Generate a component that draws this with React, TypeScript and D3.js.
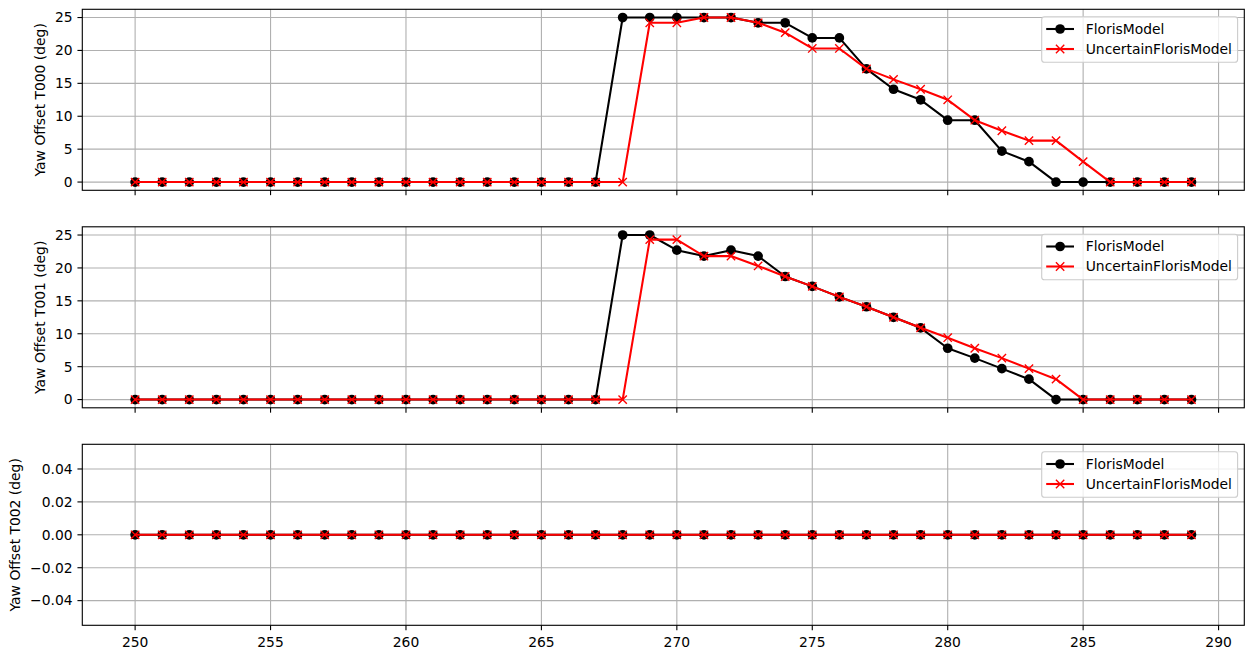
import React from "react";
import * as d3 from "d3";

const wd: number[] = [250,251,252,253,254,255,256,257,258,259,260,261,262,263,264,265,266,267,268,269,270,271,272,273,274,275,276,277,278,279,280,281,282,283,284,285,286,287,288,289];

const t000Floris: number[] = [0,0,0,0,0,0,0,0,0,0,0,0,0,0,0,0,0,0,25,25,25,25,25,24.2,24.2,21.9,21.9,17.2,14.1,12.5,9.4,9.4,4.7,3.1,0,0,0,0,0,0];
const t000Uncertain: number[] = [0,0,0,0,0,0,0,0,0,0,0,0,0,0,0,0,0,0,0,24.2,24.2,25,25,24.2,22.7,20.3,20.3,17.2,15.6,14.1,12.5,9.4,7.8,6.3,6.3,3.1,0,0,0,0];
const t001Floris: number[] = [0,0,0,0,0,0,0,0,0,0,0,0,0,0,0,0,0,0,25,25,22.7,21.8,22.7,21.8,18.7,17.2,15.6,14.1,12.5,10.9,7.8,6.3,4.7,3.1,0,0,0,0,0,0];
const t001Uncertain: number[] = [0,0,0,0,0,0,0,0,0,0,0,0,0,0,0,0,0,0,0,24.3,24.3,21.8,21.8,20.3,18.7,17.2,15.6,14.1,12.5,10.9,9.4,7.8,6.3,4.7,3.1,0,0,0,0,0];
const t002Floris: number[] = [0,0,0,0,0,0,0,0,0,0,0,0,0,0,0,0,0,0,0,0,0,0,0,0,0,0,0,0,0,0,0,0,0,0,0,0,0,0,0,0];
const t002Uncertain: number[] = [0,0,0,0,0,0,0,0,0,0,0,0,0,0,0,0,0,0,0,0,0,0,0,0,0,0,0,0,0,0,0,0,0,0,0,0,0,0,0,0];

const xTicks: number[] = [250,255,260,265,270,275,280,285,290];
const yTicksDeg: number[] = [0,5,10,15,20,25];
const yTicksZero: number[] = [-0.04,-0.02,0,0.02,0.04];

const seriesNames: string[] = ["FlorisModel", "UncertainFlorisModel"];
const panelLabels: string[] = ["Yaw Offset T000 (deg)", "Yaw Offset T001 (deg)", "Yaw Offset T002 (deg)"];

const W = 1254, H = 659;
const left = 82.3, right = 1244.3;
const panelTops = [9.3, 226.8, 444.3];
const panelH = 181;
const FONT = "'DejaVu Sans', sans-serif";
const FS = 13.89;
const LW = 2.08;
const TK = 4.86;
const MR = 4.85;

type PanelDef = {
  floris: number[];
  unc: number[];
  domain: [number, number];
  ticks: number[];
  fmt: (v: number) => string;
  labelX: number;
  label: string;
  showXLabels: boolean;
};

const panels: PanelDef[] = [
  { floris: t000Floris, unc: t000Uncertain, domain: [-1.25, 26.25], ticks: yTicksDeg, fmt: (v) => String(v), labelX: 45, label: panelLabels[0], showXLabels: false },
  { floris: t001Floris, unc: t001Uncertain, domain: [-1.25, 26.25], ticks: yTicksDeg, fmt: (v) => String(v), labelX: 45, label: panelLabels[1], showXLabels: false },
  { floris: t002Floris, unc: t002Uncertain, domain: [-0.055, 0.055], ticks: yTicksZero, fmt: (v) => (v < 0 ? "\u2212" : "") + Math.abs(v).toFixed(2), labelX: 20, label: panelLabels[2], showXLabels: true },
];

const x = d3.scaleLinear().domain([248.05, 290.95]).range([left, right]);

function xMark(cx: number, cy: number) {
  const s = 4.17;
  return `M${cx - s},${cy - s}L${cx + s},${cy + s}M${cx - s},${cy + s}L${cx + s},${cy - s}`;
}

function Panel({ p, top }: { p: PanelDef; top: number }) {
  const bottom = top + panelH;
  const y = d3.scaleLinear().domain(p.domain).range([bottom, top]);
  const line = d3.line<number>().x((_, i) => x(wd[i])).y((d) => y(d));
  const grid = "#b0b0b0";
  const lgTop = top + 7.4;
  const lgLeft = 1041.7;
  const lgW = 195.9, lgH = 45.6;
  return (
    <g>
      <clipPath id={`clip${top}`}>
        <rect x={left} y={top} width={right - left} height={panelH} />
      </clipPath>
      {xTicks.map((t) => (
        <line key={"gx" + t} x1={x(t)} x2={x(t)} y1={top} y2={bottom} stroke={grid} strokeWidth={1.11} />
      ))}
      {p.ticks.map((t) => (
        <line key={"gy" + t} x1={left} x2={right} y1={y(t)} y2={y(t)} stroke={grid} strokeWidth={1.11} />
      ))}
      <g clipPath={`url(#clip${top})`}>
        <path d={line(p.floris) || ""} fill="none" stroke="black" strokeWidth={LW} strokeLinejoin="round" />
        {p.floris.map((v, i) => (
          <circle key={"c" + i} cx={x(wd[i])} cy={y(v)} r={MR} fill="black" />
        ))}
        <path d={line(p.unc) || ""} fill="none" stroke="red" strokeWidth={LW} strokeLinejoin="round" />
        {p.unc.map((v, i) => (
          <path key={"x" + i} d={xMark(x(wd[i]), y(v))} stroke="red" strokeWidth={1.39} />
        ))}
      </g>
      <rect x={left} y={top} width={right - left} height={panelH} fill="none" stroke="black" strokeWidth={1.11} />
      {xTicks.map((t) => (
        <g key={"tx" + t}>
          <line x1={x(t)} x2={x(t)} y1={bottom} y2={bottom + TK} stroke="black" strokeWidth={1.11} />
          {p.showXLabels && (
            <text x={x(t)} y={bottom + 22} textAnchor="middle" fontFamily={FONT} fontSize={FS} fill="black">{t}</text>
          )}
        </g>
      ))}
      {p.ticks.map((t) => (
        <g key={"ty" + t}>
          <line x1={left - TK} x2={left} y1={y(t)} y2={y(t)} stroke="black" strokeWidth={1.11} />
          <text x={left - 2 * TK} y={y(t)} dy="0.35em" textAnchor="end" fontFamily={FONT} fontSize={FS} fill="black">{p.fmt(t)}</text>
        </g>
      ))}
      <text transform={`translate(${p.labelX},${(top + bottom) / 2}) rotate(-90)`} textAnchor="middle" fontFamily={FONT} fontSize={FS} fill="black">{p.label}</text>
      <g>
        <rect x={lgLeft} y={lgTop} width={lgW} height={lgH} rx={2.8} fill="white" fillOpacity={0.8} stroke="#cccccc" strokeWidth={1.11} />
        {seriesNames.map((name, i) => {
          const cy = lgTop + 12.3 + i * 20;
          const x1 = lgLeft + 4.5, x2 = lgLeft + 32.3, mx = (x1 + x2) / 2;
          const col = i === 0 ? "black" : "red";
          return (
            <g key={name}>
              <line x1={x1} x2={x2} y1={cy} y2={cy} stroke={col} strokeWidth={LW} />
              {i === 0 ? (
                <circle cx={mx} cy={cy} r={MR} fill="black" />
              ) : (
                <path d={xMark(mx, cy)} stroke="red" strokeWidth={1.39} />
              )}
              <text x={lgLeft + 44} y={cy} dy="0.35em" fontFamily={FONT} fontSize={FS} fill="black">{name}</text>
            </g>
          );
        })}
      </g>
    </g>
  );
}

export default function App() {
  return (
    <div style={{ position: "fixed", left: 0, top: 0 }}>
      <svg width={W} height={H} viewBox={`0 0 ${W} ${H}`} style={{ display: "block", background: "white" }}>
        <rect width={W} height={H} fill="white" />
        {panels.map((p, i) => (
          <Panel key={i} p={p} top={panelTops[i]} />
        ))}
      </svg>
    </div>
  );
}
